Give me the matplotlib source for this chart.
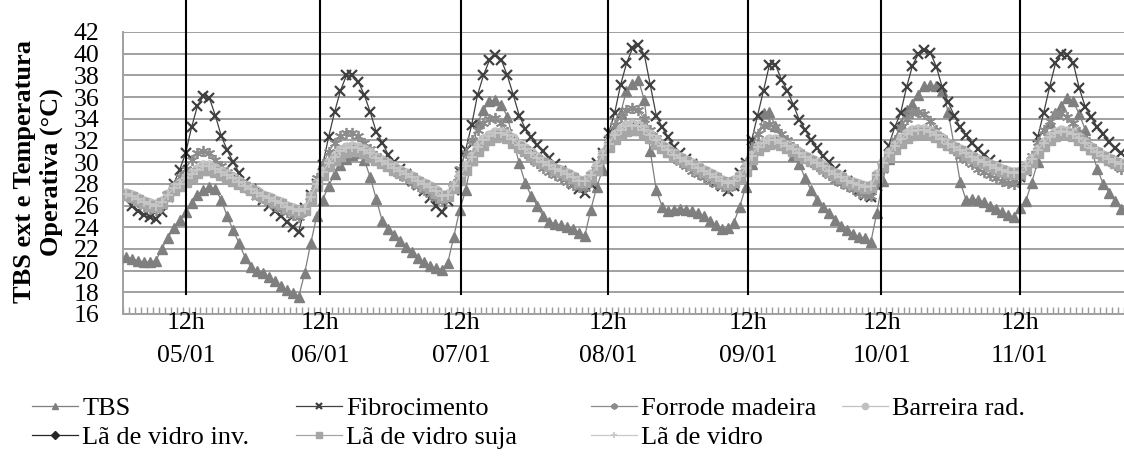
import numpy as np
import matplotlib
matplotlib.use("Agg")
import matplotlib.pyplot as plt

plt.rcParams['font.family'] = ['Liberation Serif', 'DejaVu Serif']

# hourly values, 05/01 00h .. 11/01 23h (one row per day)
tbs = [
    21.3, 21.1, 20.9, 20.8, 20.8, 20.9, 22.0, 23.0, 23.9, 24.7, 25.4, 26.2, 27.0, 27.4, 27.7, 27.5, 26.5, 25.0, 23.7, 22.5, 21.2, 20.3, 20.0, 19.8,
    19.4, 19.0, 18.6, 18.2, 17.9, 17.6, 19.8, 22.5, 25.0, 26.5, 27.8, 28.9, 29.7, 30.3, 30.7, 30.8, 30.2, 28.6, 26.6, 24.6, 23.8, 23.3, 22.7, 22.2,
    21.7, 21.2, 20.8, 20.4, 20.2, 20.1, 20.7, 23.1, 25.6, 27.4, 30.2, 33.6, 34.8, 35.6, 35.7, 35.3, 34.2, 32.0, 29.9, 28.1, 26.9, 26.0, 25.0, 24.5,
    24.3, 24.2, 24.0, 23.8, 23.5, 23.2, 25.6, 27.7, 29.3, 31.5, 33.0, 34.5, 36.6, 37.2, 37.6, 35.7, 31.0, 27.4, 25.9, 25.5, 25.6, 25.7, 25.6, 25.5,
    25.3, 25.0, 24.6, 24.2, 23.8, 23.9, 24.4, 25.9, 27.7, 29.8, 31.7, 34.5, 34.6, 33.3, 32.4, 31.5, 30.6, 29.8, 28.5, 27.4, 26.5, 25.9, 25.3, 24.7,
    24.1, 23.7, 23.4, 23.1, 23.0, 22.6, 25.3, 28.3, 30.3, 32.0, 33.5, 34.8, 35.4, 36.2, 37.0, 37.1, 37.0, 36.6, 34.6, 31.5, 28.2, 26.5, 26.6, 26.5,
    26.3, 26.0, 25.7, 25.4, 25.1, 24.9, 25.8, 26.4, 28.1, 30.0, 31.8, 33.6, 34.5, 35.2, 35.9, 35.6, 34.4, 33.0, 31.2, 29.4, 28.0, 27.2, 26.4, 25.7,
]
fibrocimento = [
    26.8, 26.0, 25.5, 25.1, 24.9, 24.8, 25.4, 26.8, 28.0, 29.3, 30.8, 33.2, 35.2, 36.1, 35.9, 34.3, 32.4, 31.1, 30.0, 29.0, 28.2, 27.5, 27.0, 26.5,
    26.0, 25.5, 25.0, 24.5, 24.0, 23.6, 25.8, 27.0, 28.0, 29.7, 32.3, 34.6, 36.6, 38.0, 38.0, 37.4, 36.2, 34.6, 32.8, 31.8, 30.7, 30.0, 29.4, 28.9,
    28.4, 27.9, 27.3, 26.7, 26.0, 25.4, 26.4, 27.4, 29.1, 31.1, 33.4, 36.2, 38.0, 39.4, 39.9, 39.4, 38.0, 36.2, 34.3, 33.1, 32.3, 31.6, 31.0, 30.4,
    29.8, 29.2, 28.6, 28.0, 27.5, 27.2, 28.0, 29.9, 30.8, 32.7, 34.5, 37.1, 39.1, 40.5, 40.8, 39.9, 37.1, 34.3, 33.2, 32.3, 31.4, 30.8, 30.3, 29.8,
    29.4, 29.0, 28.6, 28.2, 27.8, 27.3, 27.8, 29.0, 29.9, 32.0, 34.3, 36.6, 39.0, 39.0, 37.6, 36.6, 35.3, 33.9, 33.0, 32.0, 31.3, 30.6, 30.0, 29.4,
    28.8, 28.3, 27.9, 27.4, 27.0, 26.8, 27.8, 29.5, 31.5, 33.2, 34.5, 36.9, 38.9, 40.0, 40.3, 40.1, 38.8, 36.9, 35.5, 34.3, 33.2, 32.5, 31.8, 31.2,
    30.7, 30.2, 29.7, 29.2, 28.8, 28.4, 28.6, 29.2, 29.9, 32.3, 34.5, 36.9, 39.1, 40.0, 39.9, 39.1, 36.8, 35.1, 34.2, 33.2, 32.6, 31.9, 31.3, 30.8,
]
forro_madeira = [
    27.0, 26.7, 26.3, 26.0, 25.7, 25.6, 26.0, 27.0, 27.8, 28.6, 29.4, 30.2, 30.8, 31.0, 30.8, 30.2, 29.6, 29.1, 28.6, 28.2, 27.8, 27.4, 27.0, 26.7,
    26.3, 26.0, 25.7, 25.4, 25.1, 24.9, 25.5, 27.0, 28.5, 29.8, 30.9, 31.8, 32.4, 32.7, 32.7, 32.4, 31.8, 31.2, 30.6, 30.1, 29.6, 29.2, 28.8, 28.5,
    28.1, 27.8, 27.4, 27.1, 26.7, 26.4, 27.0, 28.0, 29.4, 30.8, 32.0, 33.0, 33.6, 34.0, 34.1, 33.6, 32.8, 32.0, 31.3, 30.8, 30.3, 29.9, 29.5, 29.1,
    28.8, 28.5, 28.2, 27.9, 27.7, 27.6, 28.2, 29.4, 30.8, 32.2, 33.4, 34.2, 34.8, 35.0, 34.8, 34.0, 33.0, 32.2, 31.5, 30.9, 30.4, 30.0, 29.6, 29.2,
    28.9, 28.6, 28.3, 28.0, 27.8, 27.6, 27.9, 28.8, 29.9, 31.4, 32.6, 33.3, 33.5, 33.2, 32.6, 32.0, 31.4, 30.9, 30.4, 30.0, 29.6, 29.2, 28.8, 28.4,
    28.1, 27.8, 27.5, 27.2, 27.0, 26.9, 28.0, 29.4, 30.8, 32.0, 33.2, 34.0, 34.5, 34.6, 34.4, 33.8, 33.0, 32.2, 31.6, 31.1, 30.6, 30.2, 29.8, 29.4,
    29.1, 28.8, 28.5, 28.3, 28.1, 28.0, 28.6, 29.4, 30.6, 31.9, 33.0, 33.8, 34.4, 34.5, 34.2, 33.6, 32.8, 32.0, 31.4, 30.9, 30.5, 30.1, 29.7, 29.4,
]
barreira_rad = [
    27.2, 27.0, 26.7, 26.4, 26.2, 26.1, 26.4, 27.1, 27.7, 28.1, 28.6, 29.0, 29.4, 29.7, 29.7, 29.5, 29.2, 28.9, 28.6, 28.3, 27.9, 27.6, 27.3, 27.0,
    26.8, 26.5, 26.3, 26.0, 25.8, 25.6, 25.8, 26.9, 28.1, 29.2, 30.0, 30.6, 31.1, 31.4, 31.5, 31.4, 31.2, 30.9, 30.5, 30.2, 29.9, 29.6, 29.3, 29.0,
    28.7, 28.4, 28.1, 27.8, 27.4, 27.0, 27.1, 27.9, 28.8, 29.7, 30.6, 31.5, 32.1, 32.5, 32.8, 32.8, 32.6, 32.2, 31.7, 31.3, 30.9, 30.5, 30.1, 29.8,
    29.5, 29.3, 29.0, 28.7, 28.4, 28.4, 28.9, 29.7, 30.8, 31.8, 32.6, 33.1, 33.4, 33.5, 33.4, 33.1, 32.6, 32.1, 31.6, 31.2, 30.8, 30.5, 30.2, 29.9,
    29.6, 29.3, 29.0, 28.7, 28.4, 28.2, 28.4, 28.8, 29.6, 30.7, 31.5, 31.9, 32.1, 32.1, 31.9, 31.6, 31.3, 30.9, 30.6, 30.3, 30.0, 29.7, 29.3, 29.0,
    28.7, 28.4, 28.2, 28.0, 27.8, 27.9, 28.9, 30.0, 30.9, 31.6, 32.2, 32.7, 33.0, 33.1, 33.1, 32.9, 32.6, 32.2, 31.8, 31.5, 31.2, 30.9, 30.6, 30.3,
    30.1, 29.8, 29.6, 29.4, 29.2, 29.1, 29.2, 29.7, 30.4, 31.2, 31.9, 32.4, 32.8, 33.0, 32.9, 32.7, 32.3, 31.9, 31.4, 31.0, 30.7, 30.4, 30.1, 29.9,
]
la_vidro_inv = [
    26.9, 26.7, 26.4, 26.1, 25.9, 25.8, 26.1, 26.9, 27.5, 27.9, 28.4, 28.8, 29.2, 29.5, 29.5, 29.3, 29.0, 28.8, 28.5, 28.2, 27.9, 27.6, 27.3, 27.0,
    26.7, 26.4, 26.2, 25.9, 25.7, 25.5, 25.7, 26.8, 28.0, 29.0, 29.8, 30.4, 30.9, 31.2, 31.3, 31.2, 31.0, 30.7, 30.4, 30.1, 29.8, 29.5, 29.2, 28.9,
    28.6, 28.3, 28.0, 27.7, 27.3, 26.9, 27.0, 27.8, 28.6, 29.5, 30.4, 31.3, 31.9, 32.3, 32.6, 32.6, 32.4, 32.0, 31.6, 31.2, 30.8, 30.4, 30.0, 29.7,
    29.4, 29.2, 28.9, 28.6, 28.3, 28.3, 28.8, 29.5, 30.6, 31.6, 32.4, 32.9, 33.2, 33.3, 33.2, 32.9, 32.4, 31.9, 31.5, 31.1, 30.7, 30.4, 30.1, 29.8,
    29.5, 29.2, 28.9, 28.6, 28.3, 28.1, 28.3, 28.7, 29.4, 30.5, 31.3, 31.7, 31.9, 32.0, 31.8, 31.5, 31.2, 30.8, 30.5, 30.2, 29.9, 29.6, 29.2, 28.9,
    28.6, 28.3, 28.1, 27.9, 27.7, 27.8, 28.8, 29.8, 30.7, 31.4, 32.0, 32.5, 32.8, 32.9, 32.9, 32.8, 32.5, 32.1, 31.7, 31.4, 31.1, 30.8, 30.5, 30.2,
    30.0, 29.7, 29.5, 29.3, 29.1, 29.0, 29.1, 29.6, 30.2, 31.0, 31.7, 32.2, 32.6, 32.8, 32.8, 32.6, 32.2, 31.8, 31.3, 30.9, 30.6, 30.3, 30.0, 29.8,
]
la_vidro_suja = [
    27.0, 26.8, 26.5, 26.2, 26.0, 25.9, 26.2, 26.9, 27.4, 27.8, 28.2, 28.6, 29.0, 29.3, 29.3, 29.1, 28.8, 28.6, 28.3, 28.0, 27.7, 27.4, 27.1, 26.8,
    26.6, 26.3, 26.1, 25.8, 25.6, 25.4, 25.6, 26.6, 27.8, 28.8, 29.6, 30.2, 30.6, 30.9, 31.0, 31.0, 30.8, 30.5, 30.2, 29.9, 29.6, 29.3, 29.0, 28.8,
    28.5, 28.2, 27.9, 27.6, 27.2, 26.8, 26.9, 27.6, 28.4, 29.3, 30.2, 31.0, 31.6, 32.0, 32.3, 32.4, 32.2, 31.8, 31.4, 31.0, 30.6, 30.2, 29.9, 29.6,
    29.3, 29.1, 28.8, 28.5, 28.2, 28.2, 28.6, 29.3, 30.4, 31.4, 32.1, 32.6, 32.9, 33.0, 33.0, 32.7, 32.2, 31.7, 31.3, 30.9, 30.6, 30.3, 30.0, 29.7,
    29.4, 29.1, 28.8, 28.5, 28.2, 28.0, 28.2, 28.5, 29.2, 30.3, 31.1, 31.5, 31.7, 31.8, 31.6, 31.3, 31.0, 30.7, 30.4, 30.1, 29.8, 29.5, 29.1, 28.8,
    28.5, 28.2, 28.0, 27.8, 27.6, 27.7, 28.6, 29.6, 30.5, 31.2, 31.8, 32.2, 32.5, 32.7, 32.7, 32.6, 32.3, 31.9, 31.6, 31.3, 31.0, 30.7, 30.4, 30.1,
    29.9, 29.6, 29.4, 29.2, 29.0, 28.9, 29.0, 29.4, 30.0, 30.8, 31.5, 32.0, 32.4, 32.6, 32.6, 32.4, 32.0, 31.6, 31.2, 30.8, 30.5, 30.2, 29.9, 29.7,
]
la_vidro = [
    27.1, 26.9, 26.6, 26.3, 26.1, 26.0, 26.3, 27.0, 27.6, 28.0, 28.5, 28.9, 29.3, 29.6, 29.6, 29.4, 29.1, 28.8, 28.5, 28.2, 27.8, 27.5, 27.2, 26.9,
    26.7, 26.4, 26.2, 25.9, 25.7, 25.5, 25.7, 26.8, 28.0, 29.1, 29.9, 30.5, 31.0, 31.3, 31.4, 31.3, 31.1, 30.8, 30.4, 30.1, 29.8, 29.5, 29.2, 28.9,
    28.6, 28.3, 28.0, 27.7, 27.3, 26.9, 27.0, 27.8, 28.7, 29.6, 30.5, 31.4, 32.0, 32.4, 32.7, 32.7, 32.5, 32.1, 31.6, 31.2, 30.8, 30.4, 30.0, 29.7,
    29.4, 29.2, 28.9, 28.6, 28.3, 28.3, 28.8, 29.6, 30.7, 31.7, 32.5, 33.0, 33.3, 33.4, 33.3, 33.0, 32.5, 32.0, 31.5, 31.1, 30.7, 30.4, 30.1, 29.8,
    29.5, 29.2, 28.9, 28.6, 28.3, 28.1, 28.3, 28.7, 29.5, 30.6, 31.4, 31.8, 32.0, 32.0, 31.8, 31.5, 31.2, 30.8, 30.5, 30.2, 29.9, 29.6, 29.2, 28.9,
    28.6, 28.3, 28.1, 27.9, 27.7, 27.8, 28.8, 29.9, 30.8, 31.5, 32.1, 32.6, 32.9, 33.0, 33.0, 32.8, 32.5, 32.1, 31.7, 31.4, 31.1, 30.8, 30.5, 30.2,
    30.0, 29.7, 29.5, 29.3, 29.1, 29.0, 29.1, 29.6, 30.3, 31.1, 31.8, 32.3, 32.7, 32.9, 32.8, 32.6, 32.2, 31.8, 31.3, 30.9, 30.6, 30.3, 30.0, 29.8,
]

dias = ['05/01', '06/01', '07/01', '08/01', '09/01', '10/01', '11/01']
# where the "12h" marker lines were drawn (hour index)
marcas_12h = [10.1, 32.6, 56.2, 80.9, 104.4, 126.8, 150.0]

series = [
    ('TBS', tbs, '#7f7f7f', '^', 7.5, 1.0),
    ('Fibrocimento', fibrocimento, '#404040', 'x', 7.5, 1.6),
    ('Forrode madeira', forro_madeira, '#8c8c8c', (6, 2, 0), 8, 1.3),
    ('Barreira rad.', barreira_rad, '#c0c0c0', 'o', 6.5, 1.0),
    ('Lã de vidro inv.', la_vidro_inv, '#262626', 'D', 3.2, 1.0),
    ('Lã de vidro suja', la_vidro_suja, '#a6a6a6', 's', 6.5, 1.0),
    ('Lã de vidro', la_vidro, '#c8c8c8', '+', 7, 1.3),
]

fig = plt.figure(figsize=(11.24, 4.59), dpi=100)
ax = fig.add_axes([123 / 1124, 1 - 314 / 459, 1001 / 1124, 282 / 459])

horas = np.arange(len(tbs))
linhas = {}
for nome, vals, cor, mk, ms, mew in series:
    ln, = ax.plot(horas, vals, color=cor, lw=0.9, marker=mk, ms=ms,
                  mew=mew, mec=cor, mfc=cor, label=nome, zorder=3)
    linhas[nome] = ln

ax.set_xlim(-0.5, len(tbs) - 0.5)
ax.set_ylim(16, 42)
ax.set_yticks(range(16, 43, 2))
ax.yaxis.grid(True, color='#a0a0a0', lw=1.4, zorder=0)
ax.set_axisbelow(True)
ax.tick_params(axis='y', length=0, pad=17, labelsize=18.5)

ax.set_xticks([])
ax.set_xticks(np.arange(-0.5, len(tbs), 1), minor=True)
ax.tick_params(axis='x', which='minor', direction='in', length=5, width=1,
               color='#999999')
for s in ['top', 'right']:
    ax.spines[s].set_visible(False)
for s in ['left', 'bottom']:
    ax.spines[s].set_color('#a0a0a0')
    ax.spines[s].set_linewidth(1.4)

for xm, dia in zip(marcas_12h, dias):
    ax.plot([xm, xm], [17.8, 46], color='black', lw=1.5, zorder=5,
            clip_on=False)
    ax.text(xm, 15.15, '12h', ha='center', va='center', fontsize=18.5)
    ax.text(xm, 12.15, dia, ha='center', va='center', fontsize=18.5)

fig.text(38 / 1124, 1 - 172 / 459, 'TBS ext e Temperatura\nOperativa (°C)',
         rotation=90, ha='center', va='center', fontsize=19,
         fontweight='bold', linespacing=1.15, multialignment='center')

# legend: one block per column, rows aligned
colunas = [['TBS', 'Lã de vidro inv.'], ['Fibrocimento', 'Lã de vidro suja'],
           ['Forrode madeira', 'Lã de vidro'], ['Barreira rad.']]
col_x = [32, 296, 591, 842]
for nomes, xc in zip(colunas, col_x):
    leg = fig.legend([linhas[n] for n in nomes], nomes, loc='upper left',
                     bbox_to_anchor=(xc / 1124, 1 - 397 / 459), frameon=False,
                     fontsize=19, handlelength=1.75, handletextpad=0.15,
                     labelspacing=0.2, borderpad=0, borderaxespad=0)
    for h in leg.legend_handles:
        h.set_markersize(4.5)

fig.savefig('out.png', dpi=100)
